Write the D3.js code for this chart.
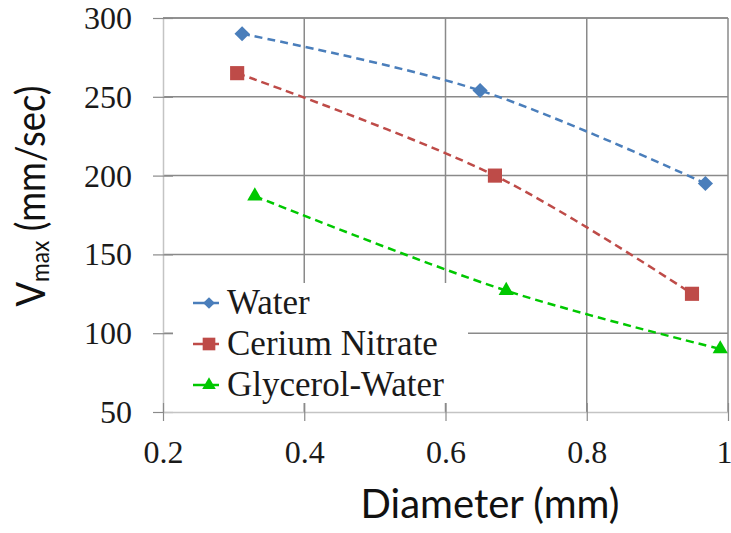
<!DOCTYPE html>
<html>
<head>
<meta charset="utf-8">
<script src="https://cdn.jsdelivr.net/npm/d3@7"></script>
<style>
  body { margin: 0; background: #fff; }
  svg { display: block; }
</style>
</head>
<body>
<svg id="chart" width="731" height="533"></svg>
<script>
// Axis ticks
const xTicks = [0.2, 0.4, 0.6, 0.8, 1];
const yTicks = [50, 100, 150, 200, 250, 300];

// Series: droplet diameter (mm) vs. maximum velocity (mm/sec)
const seriesNames = ["Water", "Cerium Nitrate", "Glycerol-Water"];
const waterDiameter = [0.312, 0.649, 0.968];
const waterVmax = [290, 254, 195];
const ceriumDiameter = [0.305, 0.670, 0.949];
const ceriumVmax = [265, 200, 125];
const glycerolDiameter = [0.330, 0.686, 0.989];
const glycerolVmax = [187, 127, 90];

const seriesColors = ["#4a7ebb", "#be4b48", "#00c800"];
const seriesMarkers = ["diamond", "square", "triangle"];

const series = [
  { name: seriesNames[0], xs: waterDiameter, ys: waterVmax },
  { name: seriesNames[1], xs: ceriumDiameter, ys: ceriumVmax },
  { name: seriesNames[2], xs: glycerolDiameter, ys: glycerolVmax }
].map((s, i) => ({
  ...s,
  color: seriesColors[i],
  marker: seriesMarkers[i],
  points: s.xs.map((x, j) => [x, s.ys[j]])
}));

// Marker shapes: diamond is a square turned 45 degrees
function markerPath(kind, scale) {
  if (kind === "diamond") return d3.symbol().type(d3.symbolSquare).size(115 * scale)();
  if (kind === "square") return d3.symbol().type(d3.symbolSquare).size(200 * scale)();
  return d3.symbol().type(d3.symbolTriangle).size(100 * scale)();
}
function markerRotate(kind) { return kind === "diamond" ? " rotate(45)" : ""; }

const svg = d3.select("#chart");
const plot = { left: 163, right: 728, top: 18, bottom: 412 };

const x = d3.scaleLinear().domain([0.2, 1]).range([plot.left, plot.right]);
const y = d3.scaleLinear().domain([50, 300]).range([plot.bottom, plot.top]);

const gridColor = "#8a8a8a";
const axisColor = "#c4c4c4";
const serif = "'Liberation Serif', 'Times New Roman', serif";
const sans = "Lato, 'Open Sans', sans-serif";

// Gridlines
const grid = svg.append("g");
grid.selectAll("line.h")
  .data(yTicks.filter(t => t !== 50))
  .join("line")
  .attr("x1", plot.left).attr("x2", plot.right)
  .attr("y1", d => y(d)).attr("y2", d => y(d))
  .attr("stroke", gridColor).attr("stroke-width", 1.5);
grid.selectAll("line.v")
  .data(xTicks.filter(t => t !== 0.2))
  .join("line")
  .attr("y1", plot.top).attr("y2", plot.bottom)
  .attr("x1", d => x(d)).attr("x2", d => x(d))
  .attr("stroke", gridColor).attr("stroke-width", 1.5);

// Left and bottom axes with crossing ticks
const yAxis = d3.axisLeft(y).tickValues(yTicks).tickSize(0).tickFormat(d3.format("d"));
const gy = svg.append("g").attr("transform", `translate(${plot.left},0)`).call(yAxis);
gy.select(".domain").attr("stroke", axisColor).attr("stroke-width", 1.5);
gy.selectAll(".tick line").remove();
gy.selectAll(".tick").append("line")
  .attr("x1", -10).attr("x2", 10)
  .attr("stroke", gridColor).attr("stroke-width", 1.2);
gy.selectAll(".tick text")
  .attr("x", -31).attr("dy", "0.33em")
  .attr("font-family", serif).attr("font-size", 32).attr("fill", "#1a1a1a");

const xAxis = d3.axisBottom(x).tickValues(xTicks).tickSize(0)
  .tickFormat(d => d === 1 ? "1" : d3.format(".1f")(d));
const gx = svg.append("g").attr("transform", `translate(0,${plot.bottom})`).call(xAxis);
gx.select(".domain").attr("stroke", axisColor).attr("stroke-width", 1.5);
gx.selectAll(".tick line").remove();
gx.selectAll(".tick").append("line")
  .attr("y1", -9).attr("y2", 9)
  .attr("stroke", gridColor).attr("stroke-width", 1.2);
gx.selectAll(".tick text")
  .attr("y", 51).attr("dy", 0)
  .attr("x", d => d === 1 ? -4 : 0)
  .attr("font-family", serif).attr("font-size", 32).attr("fill", "#1a1a1a");

// Top frame line drawn over the axes
svg.append("line")
  .attr("x1", x(0.2)).attr("x2", x(1)).attr("y1", y(300)).attr("y2", y(300))
  .attr("stroke", gridColor).attr("stroke-width", 1.5);

// Smoothed dashed series lines
const line = d3.line()
  .x(d => x(d[0])).y(d => y(d[1]))
  .curve(d3.curveCatmullRom.alpha(0.5));

const seriesG = svg.append("g");
series.forEach(s => {
  seriesG.append("path")
    .attr("d", line(s.points))
    .attr("fill", "none")
    .attr("stroke", s.color)
    .attr("stroke-width", 2.5)
    .attr("stroke-dasharray", "8,5");
  seriesG.selectAll(null)
    .data(s.points)
    .join("path")
    .attr("transform", d => `translate(${x(d[0])},${y(d[1])})${markerRotate(s.marker)}`)
    .attr("d", markerPath(s.marker, 1))
    .attr("fill", s.color);
});

// Legend
const legend = svg.append("g");
legend.append("rect")
  .attr("x", 173).attr("y", 283).attr("width", 295).attr("height", 120)
  .attr("fill", "#fff");
const rowY = [303, 344, 385];
series.forEach((s, i) => {
  const g = legend.append("g").attr("transform", `translate(0,${rowY[i]})`);
  g.append("line")
    .attr("x1", 193).attr("x2", 219)
    .attr("stroke", s.color).attr("stroke-width", 2.5);
  g.append("path")
    .attr("transform", `translate(209,0)${markerRotate(s.marker)}`)
    .attr("d", markerPath(s.marker, s.marker === "diamond" ? 0.6 : 0.8))
    .attr("fill", s.color);
  g.append("text")
    .attr("x", 227).attr("y", 11)
    .attr("font-family", serif).attr("font-size", 35).attr("fill", "#1a1a1a")
    .text(s.name);
});

// Axis titles
svg.append("text")
  .attr("x", 490).attr("y", 518)
  .attr("text-anchor", "middle")
  .attr("font-family", sans).attr("font-size", 40).attr("fill", "#111")
  .text("Diameter (mm)");

const yt = svg.append("text")
  .attr("transform", "translate(45,196) rotate(-90) scale(0.91,1)")
  .attr("text-anchor", "middle")
  .attr("font-family", sans).attr("font-size", 40).attr("fill", "#111");
yt.append("tspan").text("V");
yt.append("tspan").attr("font-size", 25).attr("dy", 4).text("max");
yt.append("tspan").attr("dy", -4).text(" (mm/sec)");
</script>
</body>
</html>
